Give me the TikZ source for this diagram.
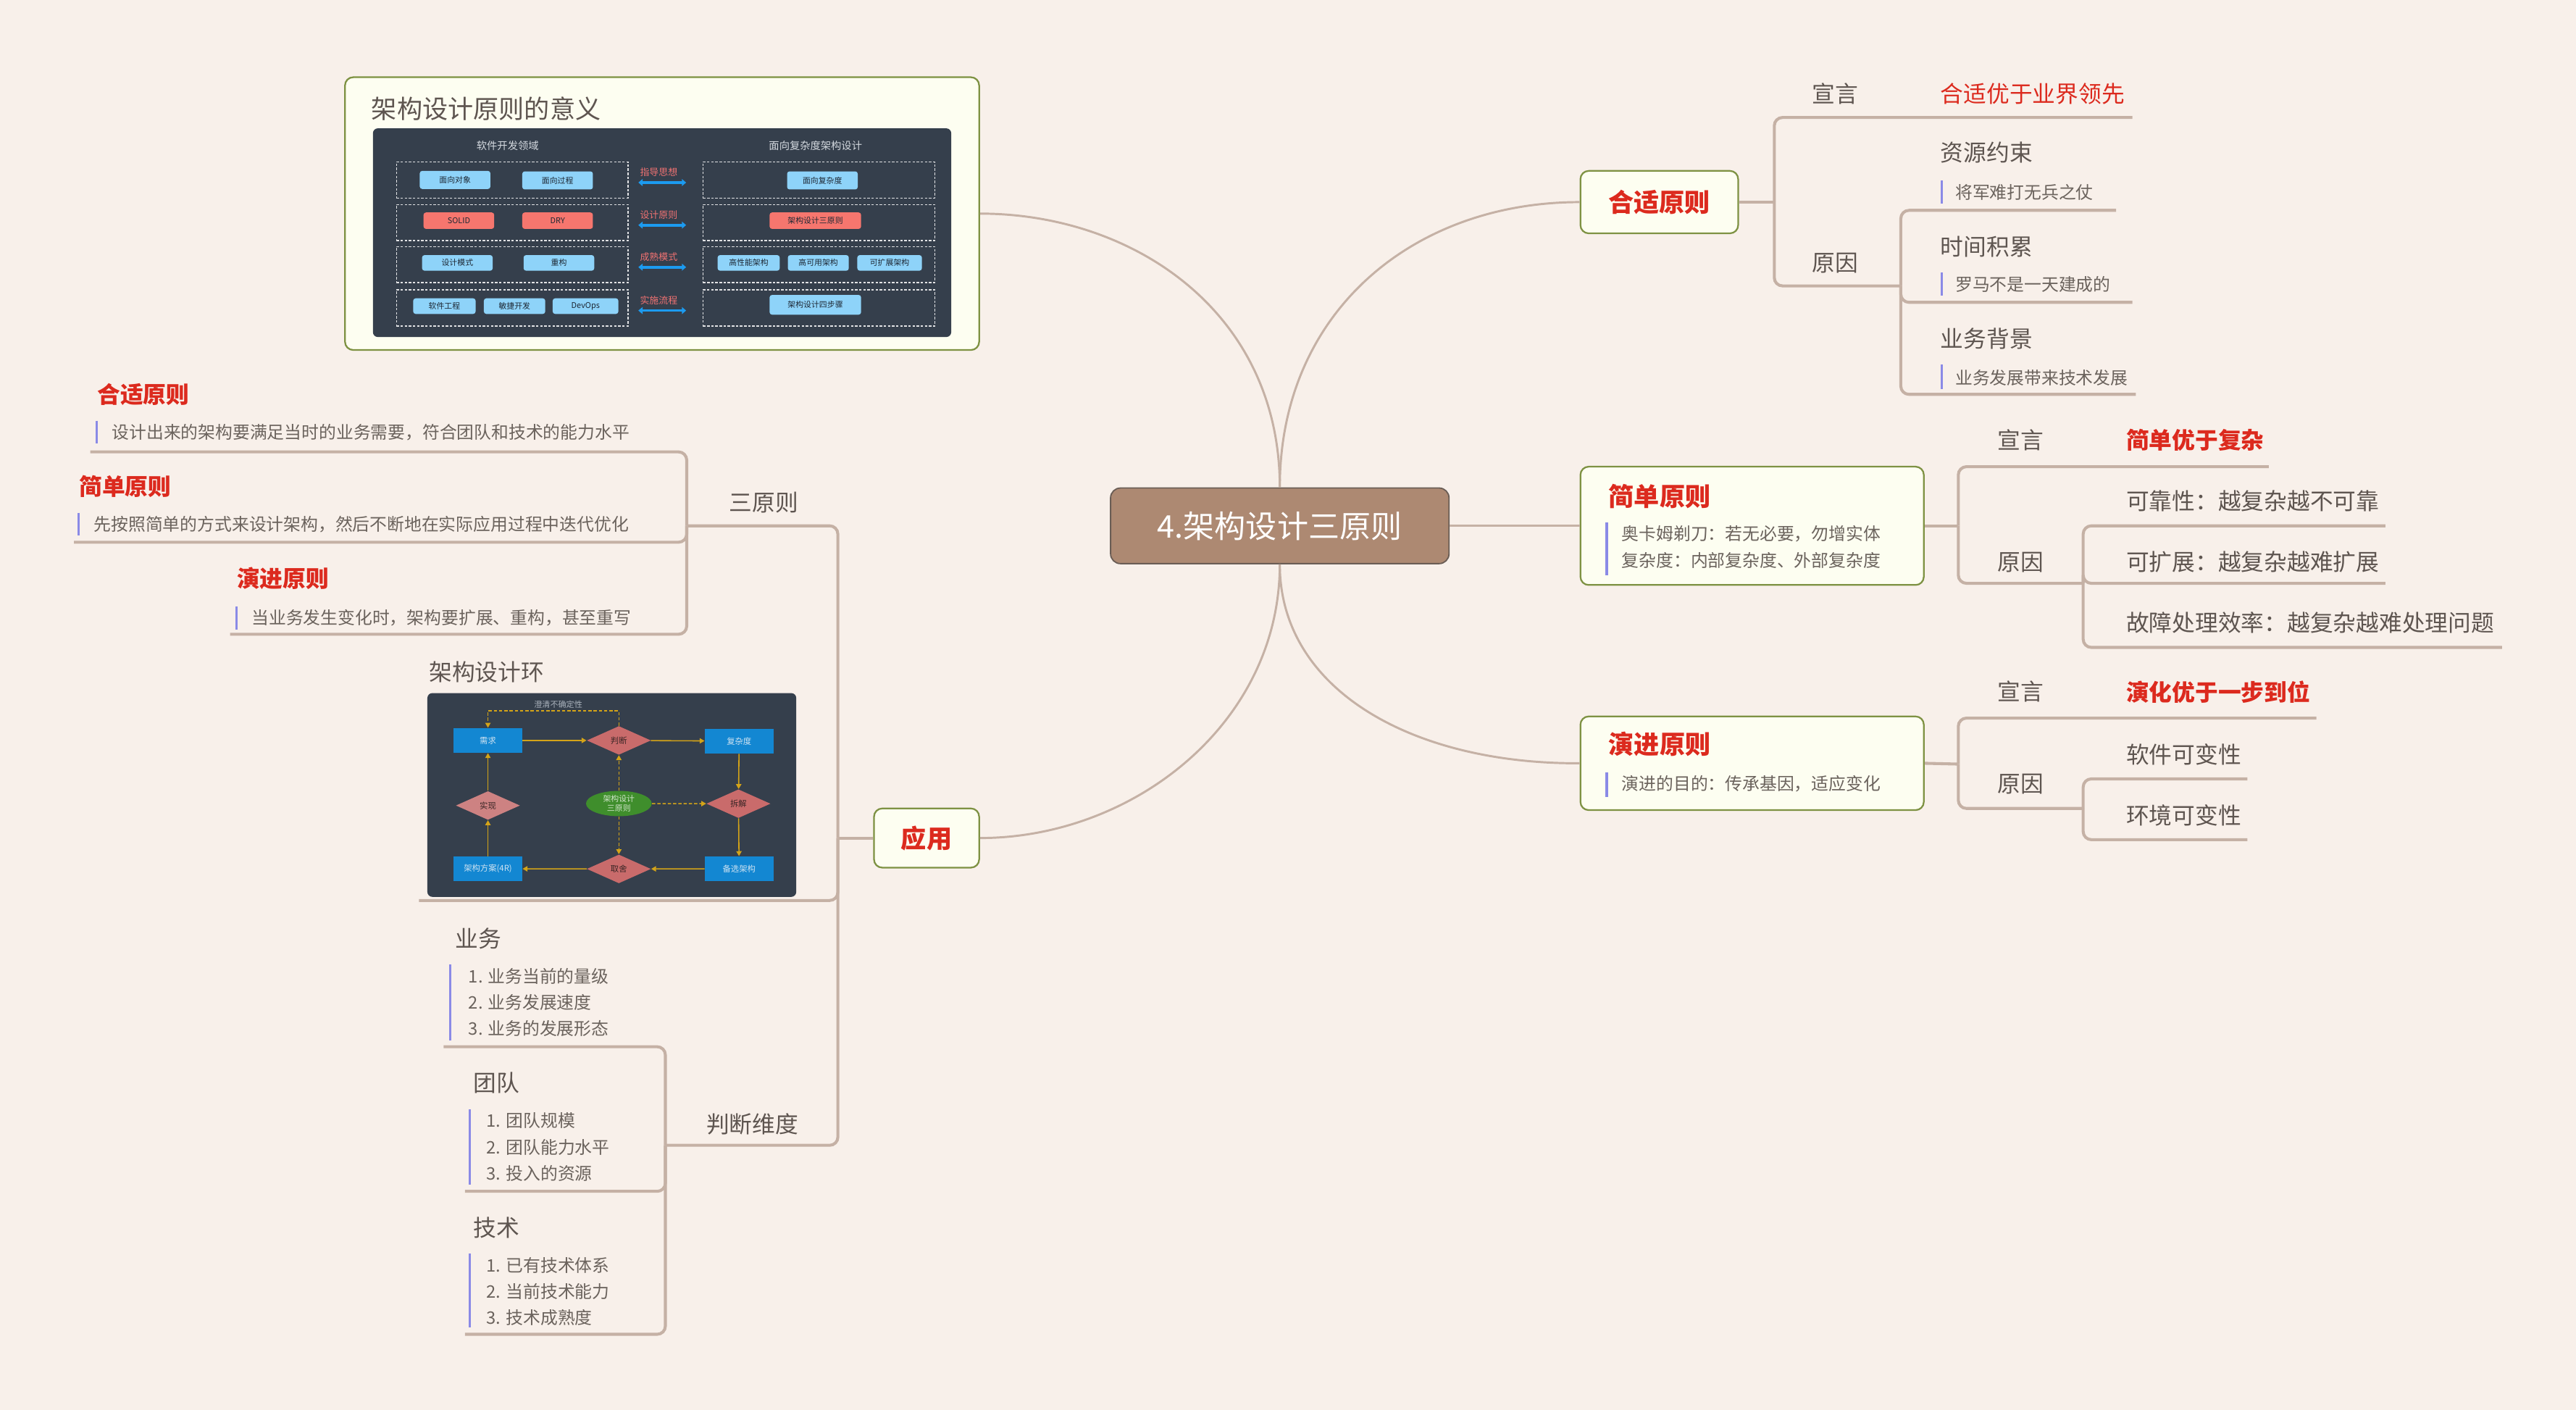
\documentclass[tikz,border=0pt]{standalone}
\usepackage{fontspec}
\setmainfont{Noto Sans CJK SC}
\usetikzlibrary{arrows.meta,shapes.geometric}

\definecolor{paper}{HTML}{F8F0EA}
\definecolor{linec}{HTML}{C5B1A5}
\definecolor{rootc}{HTML}{AD8972}
\definecolor{rootb}{HTML}{6A5D55}
\definecolor{ivory}{HTML}{FDFEF1}
\definecolor{olivec}{HTML}{7E9243}
\definecolor{keyred}{HTML}{DC2A1E}
\definecolor{inkc}{HTML}{5E5550}
\definecolor{notec}{HTML}{6B635D}
\definecolor{barc}{HTML}{8A8AE6}
\definecolor{slate}{HTML}{353F4C}
\definecolor{skyc}{HTML}{8ED3F9}
\definecolor{salmon}{HTML}{F6766E}
\definecolor{pinkc}{HTML}{F07272}
\definecolor{arrowc}{HTML}{1C9BF0}
\definecolor{chipink}{HTML}{1E2834}
\definecolor{hdrc}{HTML}{D5DAE0}
\definecolor{bluec}{HTML}{1387D2}
\definecolor{blkink}{HTML}{CFE3F2}
\definecolor{roseb}{HTML}{C96B6B}
\definecolor{rosel}{HTML}{CD8282}
\definecolor{diaink}{HTML}{3A2626}
\definecolor{golden}{HTML}{D4A418}
\definecolor{leaf}{HTML}{3F8E2C}
\definecolor{leafink}{HTML}{D2E6CB}
\definecolor{mistc}{HTML}{AAB2BC}

\begin{document}
\begin{tikzpicture}[x=1pt,y=-1pt,
    root/.style={draw=rootb, fill=rootc, line width=0.8pt, rounded corners=6pt,
        text=white, font=\fontsize{19}{19}\selectfont,
        minimum width=206pt, minimum height=46pt},
    topic/.style={draw=olivec, fill=ivory, line width=1pt, rounded corners=5pt},
    title/.style={text=keyred, font=\fontsize{15.5}{16}\selectfont\bfseries, inner sep=0pt},
    keyb/.style={text=keyred, font=\fontsize{14}{14}\selectfont\bfseries, inner sep=0pt, anchor=west},
    keyr/.style={text=keyred, font=\fontsize{14}{14}\selectfont, inner sep=0pt, anchor=west},
    sub/.style={text=inkc, font=\fontsize{14}{14}\selectfont, inner sep=0pt},
    note/.style={text=notec, font=\fontsize{10.5}{11}\selectfont, inner sep=0pt, anchor=west},
    bar/.style={draw=barc, line width=1.4pt},
    branch/.style={draw=linec, line width=1.8pt, rounded corners=5pt},
    curve/.style={draw=linec, line width=1.3pt},
    % first picture
    hdr/.style={text=hdrc, font=\fontsize{6.3}{7}\selectfont, inner sep=0pt},
    dashbox/.style={draw=white!85!slate, line width=0.5pt, dash pattern=on 1.5pt off 1pt,
        minimum width=141pt, minimum height=22pt, inner sep=0pt},
    chip/.style={fill=skyc, rounded corners=1.5pt, minimum width=43pt, minimum height=11pt,
        inner sep=0pt, text=chipink, font=\fontsize{4.8}{5}\selectfont},
    midlab/.style={text=pinkc, font=\fontsize{5.7}{6}\selectfont, inner sep=0pt},
    dbl/.style={draw=arrowc, line width=1.6pt, {Triangle[length=2.6pt,width=4.2pt]}-{Triangle[length=2.6pt,width=4.2pt]}},
    % second picture
    blk/.style={fill=bluec, minimum width=41.7pt, minimum height=15pt, inner sep=0pt,
        text=blkink, font=\fontsize{5}{6}\selectfont},
    dia/.style={diamond, fill=roseb, minimum width=39pt, minimum height=17.5pt, inner sep=0pt,
        text=diaink, font=\fontsize{5}{6}\selectfont},
    oval/.style={ellipse, fill=leaf, minimum width=40pt, minimum height=15.4pt, inner sep=0pt,
        align=center, text=leafink, font=\fontsize{4.8}{5.4}\selectfont},
    flow/.style={draw=golden, line width=0.7pt, -{Triangle[length=3pt,width=3.2pt]}},
    flowd/.style={flow, dash pattern=on 2pt off 1.2pt},
    ]
    \useasboundingbox (0,0) rectangle (1568,858);
    \fill[paper] (0,0) rectangle (1568,858);

    % Root and main topics
    \node[root] (root) at (779,320) {4.架构设计三原则};
    \node[topic, title, minimum width=96pt, minimum height=38pt] (fit) at (1010,123) {合适原则};

    \node[topic, minimum width=209pt, minimum height=72pt] (simple) at (1066.5,320) {};
    \node[title, anchor=west] (simpleT) at (979,302) {简单原则};
    \draw[bar] (978,318) -- (978,350);
    \node[note] (simpleN1) at (987,325) {奥卡姆剃刀：若无必要，勿增实体};
    \node[note] (simpleN2) at (987,341) {复杂度：内部复杂度、外部复杂度};

    \node[topic, minimum width=209pt, minimum height=57pt] (evolve) at (1066.5,464.5) {};
    \node[title, anchor=west] (evolveT) at (979,453) {演进原则};
    \draw[bar] (978,470) -- (978,485);
    \node[note] (evolveN) at (987,477) {演进的目的：传承基因，适应变化};

    \node[topic, title, minimum width=64pt, minimum height=36pt] (apply) at (564,510) {应用};

    \node[topic, minimum width=386pt, minimum height=166pt] (meaning) at (403,130) {};
    \node[sub, anchor=west, font=\fontsize{15.5}{16}\selectfont] (meaningT) at (226,66) {架构设计原则的意义};

    % Curved links from the root
    \draw[curve] (root.north) .. controls (779,190) and (860,123) .. (fit.west);
    \draw[curve] (root.north) .. controls (779,190) and (690,130) .. (meaning.east);
    \draw[curve] (root.south) .. controls (779,420) and (860,465) .. (evolve.west);
    \draw[curve] (root.south) .. controls (779,440) and (690,510) .. (apply.east);
    \draw[curve] (root.east) -- (simple.west);

    % 合适原则 branch
    \node[sub] (fitDecl) at (1117,57) {宣言};
    \node[keyr] (fitMotto) at (1181,57) {合适优于业界领先};
    \node[sub] (fitWhy) at (1117,160) {原因};
    \node[sub, anchor=west] (res) at (1181,93) {资源约束};
    \draw[bar] (1182,110) -- (1182,124);
    \node[note] (resN) at (1190,117) {将军难打无兵之仗};
    \node[sub, anchor=west] (time) at (1181,150) {时间积累};
    \draw[bar] (1182,166) -- (1182,180);
    \node[note] (timeN) at (1190,173) {罗马不是一天建成的};
    \node[sub, anchor=west] (bg) at (1181,206) {业务背景};
    \draw[bar] (1182,222) -- (1182,237);
    \node[note] (bgN) at (1190,230) {业务发展带来技术发展};

    \coordinate (fitJ) at (1080,123);
    \coordinate (fitDeclE) at (1298,71.5);
    \coordinate (fitWhyJ) at (1157,174);
    \coordinate (resE) at (1288,128);
    \coordinate (timeE) at (1298,184);
    \coordinate (bgE) at (1300,240);
    \draw[branch] (fit.east) -- (fitJ);
    \draw[branch] (fitJ) |- (fitDeclE);
    \draw[branch] (fitJ) |- (fitWhyJ);
    \foreach \e in {resE,timeE,bgE}
        \draw[branch] (fitWhyJ) |- (\e);

    % 简单原则 branch
    \node[sub] (simDecl) at (1230,268) {宣言};
    \node[keyb] (simMotto) at (1294,268) {简单优于复杂};
    \node[sub] (simWhy) at (1230,342) {原因};
    \node[sub, anchor=west] (rel) at (1294,305) {可靠性：越复杂越不可靠};
    \node[sub, anchor=west] (ext) at (1294,342) {可扩展：越复杂越难扩展};
    \node[sub, anchor=west] (fail) at (1294,379) {故障处理效率：越复杂越难处理问题};

    \coordinate (simJ) at (1192,320);
    \coordinate (simDeclE) at (1381,284);
    \coordinate (simWhyJ) at (1268,355);
    \coordinate (relE) at (1452,320);
    \coordinate (extE) at (1452,355);
    \coordinate (failE) at (1523,394);
    \draw[branch] (simple.east) -- (simJ);
    \draw[branch] (simJ) |- (simDeclE);
    \draw[branch] (simJ) |- (simWhyJ);
    \foreach \e in {relE,extE,failE}
        \draw[branch] (simWhyJ) |- (\e);

    % 演进原则 branch
    \node[sub] (evoDecl) at (1230,421) {宣言};
    \node[keyb] (evoMotto) at (1294,421) {演化优于一步到位};
    \node[sub] (evoWhy) at (1230,477) {原因};
    \node[sub, anchor=west] (soft) at (1294,459) {软件可变性};
    \node[sub, anchor=west] (env) at (1294,496) {环境可变性};

    \coordinate (evoJ) at (1192,465);
    \coordinate (evoDeclE) at (1410,437);
    \coordinate (evoWhyJ) at (1268,492);
    \coordinate (softE) at (1368,474);
    \coordinate (envE) at (1368,511);
    \draw[branch] (evolve.east) -- (evoJ);
    \draw[branch] (evoJ) |- (evoDeclE);
    \draw[branch] (evoJ) |- (evoWhyJ);
    \foreach \e in {softE,envE}
        \draw[branch] (evoWhyJ) |- (\e);

    % 应用 branch: 三原则
    \node[sub] (three) at (465,306) {三原则};
    \node[keyb] (lfit) at (59,240) {合适原则};
    \draw[bar] (59,256) -- (59,270);
    \node[note] (lfitN) at (68,263) {设计出来的架构要满足当时的业务需要，符合团队和技术的能力水平};
    \node[keyb] (lsim) at (48,296) {简单原则};
    \draw[bar] (48,312) -- (48,326);
    \node[note] (lsimN) at (57,319) {先按照简单的方式来设计架构，然后不断地在实际应用过程中迭代优化};
    \node[keyb] (levo) at (144,352) {演进原则};
    \draw[bar] (144,369) -- (144,383);
    \node[note] (levoN) at (153,376) {当业务发生变化时，架构要扩展、重构，甚至重写};

    % 应用 branch: 判断维度
    \node[sub] (dim) at (458,684) {判断维度};
    \node[sub, anchor=west] (biz) at (277,571) {业务};
    \draw[bar] (274,587) -- (274,633);
    \foreach \t [count=\k] in {业务当前的量级,业务发展速度,业务的发展形态}
        \node[note] (biz\k) at (285,578+16*\k) {\k. \t};
    \node[sub, anchor=west] (team) at (288,659) {团队};
    \draw[bar] (286,675) -- (286,721);
    \foreach \t [count=\k] in {团队规模,团队能力水平,投入的资源}
        \node[note] (team\k) at (296,666+16*\k) {\k. \t};
    \node[sub, anchor=west] (tech) at (288,747) {技术};
    \draw[bar] (286,763) -- (286,808);
    \foreach \t [count=\k] in {已有技术体系,当前技术能力,技术成熟度}
        \node[note] (tech\k) at (296,754+16*\k) {\k. \t};

    \node[sub, anchor=west] (ringT) at (261,409) {架构设计环};

    \coordinate (applyJ) at (510,510);
    \coordinate (threeJ) at (418,320);
    \coordinate (lfitE) at (55,275);
    \coordinate (lsimE) at (45,330);
    \coordinate (levoE) at (140,386);
    \coordinate (ringE) at (255,548);
    \coordinate (dimJ) at (405,697);
    \coordinate (bizE) at (270,637);
    \coordinate (teamE) at (283,725);
    \coordinate (techE) at (283,812);
    \draw[branch] (apply.west) -- (applyJ);
    \draw[branch] (applyJ) |- (threeJ);
    \draw[branch] (applyJ) |- (ringE);
    \draw[branch] (applyJ) |- (dimJ);
    \foreach \e in {lfitE,lsimE,levoE}
        \draw[branch] (threeJ) |- (\e);
    \foreach \e in {bizE,teamE,techE}
        \draw[branch] (dimJ) |- (\e);

    % First picture: 软件开发领域 vs 面向复杂度架构设计
    \node[fill=slate, rounded corners=3pt, minimum width=352pt, minimum height=127pt,
        inner sep=0pt] (pic) at (403,141.6) {};
    \node[hdr] (hdrL) at (309,88.6) {软件开发领域};
    \node[hdr] (hdrR) at (496.4,88.6) {面向复杂度架构设计};
    \foreach \i/\yc/\lab in {1/109.5/指导思想, 2/135.4/设计原则, 3/161/成熟模式, 4/187.4/实施流程} {
        \node[dashbox] (L\i) at (311.8,\yc) {};
        \node[dashbox] (R\i) at (498.4,\yc) {};
        \node[midlab] (M\i) at (401,\yc-4.8) {\lab};
        \draw[dbl] ([shift={(6,1.6)}]L\i.east) -- ([shift={(-10,1.6)}]R\i.west);
    }
    \node[chip] (oop) at (277,109.5) {面向对象};
    \node[chip] (pop) at (339.4,109.8) {面向过程};
    \node[chip] (cpx) at (500.6,109.8) {面向复杂度};
    \node[chip, fill=salmon, minimum height=10pt] (solid) at (279.3,134.3) {SOLID};
    \node[chip, fill=salmon, minimum height=10pt] (dry) at (339.4,134.3) {DRY};
    \node[chip, fill=salmon, minimum height=10pt, minimum width=55.7pt] (tri3) at (496.3,134.3) {架构设计三原则};
    \node[chip, minimum height=9.5pt] (pat) at (278.4,160) {设计模式};
    \node[chip, minimum height=9.5pt] (refac) at (340.2,160) {重构};
    \node[chip, minimum height=9.5pt, minimum width=37.8pt] (perf) at (455.7,160) {高性能架构};
    \node[chip, minimum height=9.5pt, minimum width=37.1pt] (avail) at (498.1,160) {高可用架构};
    \node[chip, minimum height=9.5pt, minimum width=39.3pt] (scal) at (541.5,160) {可扩展架构};
    \node[chip, minimum height=9.5pt, minimum width=38pt] (swe) at (270.5,186.3) {软件工程};
    \node[chip, minimum height=9.5pt, minimum width=37.4pt] (agile) at (313.2,186.3) {敏捷开发};
    \node[chip, minimum height=9.5pt, minimum width=40pt] (devops) at (356.4,186.3) {DevOps};
    \node[chip, minimum height=12pt, minimum width=55.7pt] (steps) at (496.3,185.5) {架构设计四步骤};

    % Second picture: 架构设计环
    \node[fill=slate, rounded corners=3pt, minimum width=224.5pt, minimum height=124pt,
        inner sep=0pt] (ring) at (372.4,483.8) {};
    \node[blk] (need) at (297,450.6) {需求};
    \node[blk] (cplx) at (449.9,451) {复杂度};
    \node[blk] (alt) at (449.9,528.7) {备选架构};
    \node[blk] (plan) at (297,528.7) {架构方案(4R)};
    \node[dia] (judge) at (376.7,450.6) {判断};
    \node[dia] (split) at (449.5,489.1) {拆解};
    \node[dia] (trade) at (376.7,528.8) {取舍};
    \node[dia, fill=rosel] (impl) at (297,490.2) {实现};
    \node[oval] (tri) at (376.7,489) {架构设计\\三原则};
    \node[text=mistc, font=\fontsize{4.9}{5}\selectfont, inner sep=0pt] (clar) at (339.8,428.7) {澄清不确定性};

    \draw[flow] (need) -- (judge);
    \draw[flow] (judge) -- (cplx);
    \draw[flow] (cplx) -- (split);
    \draw[flow] (split) -- (alt);
    \draw[flow] (alt) -- (trade);
    \draw[flow] (trade) -- (plan);
    \draw[flow] (plan) -- (impl);
    \draw[flow] (impl) -- (need);
    \draw[flowd] (tri) -- (judge);
    \draw[flowd] (tri) -- (split);
    \draw[flowd] (tri) -- (trade);
    \draw[flowd] (judge.north) -- ++(0,-9) -| (need.north);

\end{tikzpicture}
\end{document}
